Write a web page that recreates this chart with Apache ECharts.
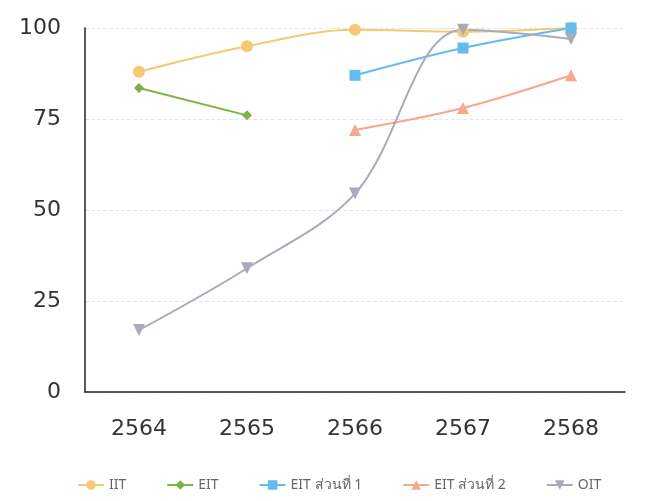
<!DOCTYPE html>
<html>
<head>
<meta charset="utf-8">
<script src="https://cdn.jsdelivr.net/npm/echarts@6/dist/echarts.min.js"></script>
<style>
html,body{margin:0;padding:0;background:#fff;}
#c{width:648px;height:501px;}
</style>
</head>
<body>
<div id="c"></div>
<script>
const categories = ['2564', '2565', '2566', '2567', '2568'];
const yTicks = [0, 25, 50, 75, 100];
const iit = [88, 95, 99.5, 99, 100];
const eit = [83.5, 76, null, null, null];
const eitPart1 = [null, null, 87, 94.5, 100];
const eitPart2 = [null, null, 72, 78, 87];
const oit = [17, 34, 54.5, 99.5, 97];

const seriesNames = ['IIT', 'EIT', 'EIT ส่วนที่ 1', 'EIT ส่วนที่ 2', 'OIT'];
const seriesData = [iit, eit, eitPart1, eitPart2, oit];
const colors = ['#f7c873', '#7cb342', '#66bbee', '#f4a890', '#a9abb9'];
const symbols = ['circle', 'diamond', 'rect', 'triangle', 'triangle'];
const rotates = [0, 0, 0, 0, 180];

const chart = echarts.init(document.getElementById('c'));
chart.setOption({
  animation: false,
  textStyle: { fontFamily: "'DejaVu Sans', 'Noto Sans', sans-serif" },
  color: colors,
  grid: { left: 85, right: 23, top: 28, bottom: 109, containLabel: false },
  legend: {
    bottom: 4,
    left: 72,
    itemGap: 40,
    itemWidth: 26,
    itemHeight: 12,
    textStyle: { fontSize: 14, color: '#666', fontFamily: "'Noto Sans', 'DejaVu Sans', sans-serif" },
    data: seriesNames
  },
  xAxis: {
    type: 'category',
    data: categories,
    boundaryGap: true,
    axisLine: { show: true, lineStyle: { color: '#222', width: 1.5 } },
    axisTick: { show: false },
    axisLabel: { fontSize: 22, color: '#333', margin: 26 },
    splitLine: { show: false }
  },
  yAxis: {
    type: 'value',
    min: yTicks[0],
    max: yTicks[yTicks.length - 1],
    interval: yTicks[1] - yTicks[0],
    axisLine: { show: true, lineStyle: { color: '#222', width: 1.5 } },
    axisTick: { show: false },
    axisLabel: { fontSize: 22, color: '#333', margin: 24 },
    splitLine: { show: true, lineStyle: { color: '#e6e6e6', type: 'dashed' } }
  },
  series: seriesNames.map((name, i) => ({
    name: name,
    type: 'line',
    data: seriesData[i],
    smooth: 0.35,
    symbol: symbols[i],
    symbolRotate: rotates[i],
    symbolSize: i === 2 ? 11 : (i === 1 ? 10 : 12),
    lineStyle: { width: 2, color: colors[i] },
    itemStyle: { color: colors[i] },
    connectNulls: false
  }))
});
</script>
</body>
</html>
